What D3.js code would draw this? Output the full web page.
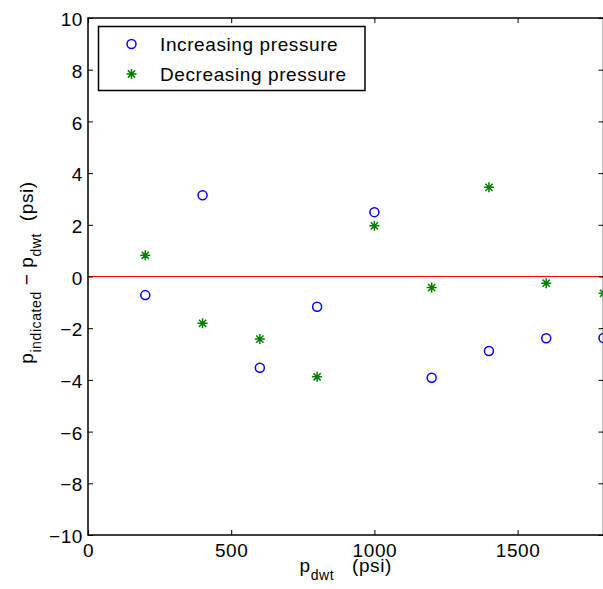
<!DOCTYPE html>
<html>
<head>
<meta charset="utf-8">
<script src="https://cdn.jsdelivr.net/npm/d3@7"></script>
<style>
  body { margin: 0; background: #fff; }
  svg { display: block; font-family: "Liberation Sans", Arial, Helvetica, sans-serif; }
  svg text { letter-spacing: 0.6px; }
  .lbl { white-space: pre; }
</style>
</head>
<body>
<svg id="chart"></svg>
<script>
// pressure set points (psi)
var pressures = [200, 400, 600, 800, 1000, 1200, 1400, 1600, 1800];
// p_indicated - p_dwt (psi)
var increasing = [-0.72, 3.14, -3.53, -1.17, 2.49, -3.92, -2.88, -2.39, -2.38];
var decreasing = [0.82, -1.81, -2.42, -3.88, 1.96, -0.43, 3.45, -0.26, -0.65];
var seriesNames = ['Increasing pressure', 'Decreasing pressure'];
var xTicks = [0, 500, 1000, 1500];
var yTicks = [-10, -8, -6, -4, -2, 0, 2, 4, 6, 8, 10];

var width = 603, height = 589;
var plotL = 88, plotR = 603.5, plotT = 18, plotB = 535;
var fontSize = '19px', subSize = '14px';

var svg = d3.select('#chart').attr('width', width).attr('height', height);

var x = d3.scaleLinear().domain([0, 1800]).range([plotL, plotR]);
var y = d3.scaleLinear().domain([-10, 10]).range([plotB, plotT]);
var fmt = d3.format('d');

// zero reference line
svg.append('line')
    .attr('x1', x(0)).attr('x2', x(1800))
    .attr('y1', y(0)).attr('y2', y(0))
    .attr('stroke', '#ff0000').attr('stroke-width', 1);

// axes, MATLAB style: ticks inside on all four sides
function styleAxis(g, showText) {
    g.select('.domain').remove();
    g.selectAll('.tick line').attr('stroke', '#000');
    g.selectAll('.tick text').attr('fill', '#000').style('font-size', fontSize);
    if (!showText) g.selectAll('.tick text').remove();
}

svg.append('g')
    .attr('transform', 'translate(0,' + plotB + ')')
    .call(d3.axisBottom(x).tickValues(xTicks).tickFormat(fmt).tickSize(-5).tickPadding(9))
    .call(styleAxis, true);

svg.append('g')
    .attr('transform', 'translate(0,' + plotT + ')')
    .call(d3.axisTop(x).tickValues(xTicks).tickSize(-5))
    .call(styleAxis, false);

svg.append('g')
    .attr('transform', 'translate(' + plotL + ',0)')
    .call(d3.axisLeft(y).tickValues(yTicks).tickFormat(fmt).tickSize(-5).tickPadding(5))
    .call(styleAxis, true)
    .selectAll('.tick text').attr('dy', '0.4em');

svg.append('g')
    .attr('transform', 'translate(' + plotR + ',0)')
    .call(d3.axisRight(y).tickValues(yTicks).tickSize(-5))
    .call(styleAxis, false);

svg.append('rect')
    .attr('x', plotL).attr('y', plotT)
    .attr('width', plotR - plotL).attr('height', plotB - plotT)
    .attr('fill', 'none').attr('stroke', '#000').attr('stroke-width', 1.5);

// markers
function asterisk(r) {
    var d = r * 0.72;
    return 'M' + (-r) + ',0L' + r + ',0M0,' + (-r) + 'L0,' + r +
        'M' + (-d) + ',' + (-d) + 'L' + d + ',' + d +
        'M' + (-d) + ',' + d + 'L' + d + ',' + (-d);
}

svg.append('g').selectAll('circle')
    .data(pressures.map(function(p, i) { return [p, increasing[i]]; }))
    .enter().append('circle')
    .attr('cx', function(d) { return x(d[0]); })
    .attr('cy', function(d) { return y(d[1]); })
    .attr('r', 4.5)
    .attr('fill', 'none').attr('stroke', '#0000ff').attr('stroke-width', 1.5);

svg.append('g').selectAll('path')
    .data(pressures.map(function(p, i) { return [p, decreasing[i]]; }))
    .enter().append('path')
    .attr('transform', function(d) { return 'translate(' + x(d[0]) + ',' + y(d[1]) + ')'; })
    .attr('d', asterisk(5))
    .attr('fill', 'none').attr('stroke', '#008000').attr('stroke-width', 1.5);

// legend
var legend = svg.append('g');
legend.append('rect')
    .attr('x', 98.5).attr('y', 26.5).attr('width', 266.5).attr('height', 64)
    .attr('fill', '#fff').attr('stroke', '#000').attr('stroke-width', 1.5);
legend.append('circle')
    .attr('cx', 131.5).attr('cy', 44).attr('r', 4.5)
    .attr('fill', 'none').attr('stroke', '#0000ff').attr('stroke-width', 1.5);
legend.append('path')
    .attr('transform', 'translate(131.5,74)')
    .attr('d', asterisk(5))
    .attr('fill', 'none').attr('stroke', '#008000').attr('stroke-width', 1.5);
legend.selectAll('text')
    .data(seriesNames)
    .enter().append('text')
    .attr('x', 160)
    .attr('y', function(d, i) { return 51 + i * 30; })
    .style('font-size', fontSize)
    .text(function(d) { return d; });

// axis labels
var xl = svg.append('text').attr('class', 'lbl')
    .attr('x', (plotL + plotR) / 2).attr('y', 572)
    .attr('text-anchor', 'middle').style('font-size', fontSize);
xl.append('tspan').text('p');
xl.append('tspan').attr('dy', 8).style('font-size', subSize).text('dwt');
xl.append('tspan').attr('dy', -8).text('   (psi)');

var yl = svg.append('text').attr('class', 'lbl')
    .attr('transform', 'translate(33,' + ((plotT + plotB) / 2 - 4) + ') rotate(-90)')
    .attr('text-anchor', 'middle').style('font-size', fontSize);
yl.append('tspan').text('p');
yl.append('tspan').attr('dy', 8).style('font-size', subSize).text('indicated');
yl.append('tspan').attr('dy', -8).text(' \u2212 p');
yl.append('tspan').attr('dy', 8).style('font-size', subSize).text('dwt');
yl.append('tspan').attr('dy', -8).text('  (psi)');
</script>
</body>
</html>
